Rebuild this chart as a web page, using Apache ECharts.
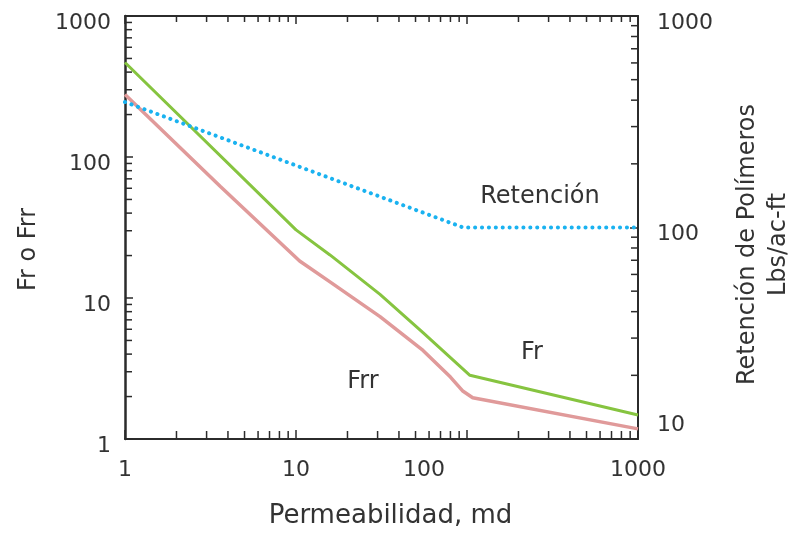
<!DOCTYPE html>
<html>
<head>
<meta charset="utf-8">
<style>
  html, body { margin: 0; padding: 0; background: #fff; }
  #chart { width: 804px; height: 534px; }
</style>
<script src="https://cdn.jsdelivr.net/npm/echarts@6.0.0/dist/echarts.min.js"></script>
</head>
<body>
<div id="chart"></div>
<script>
// ---- data ----
const permFr = [1, 10, 15.8, 31, 55.3, 104, 1000];
const fr = [468, 30.4, 20.2, 10.6, 5.69, 2.83, 1.48];

const permFrr = [1, 3.6, 10.5, 15.8, 31, 55.3, 80, 94, 108, 1000];
const frr = [277, 62, 18.3, 13.0, 7.38, 4.25, 2.75, 2.2, 1.96, 1.18];

const permRet = [1, 95, 1000];
const retencion = [392, 100, 100];

// tick values
const xTickLabels = ['1', '10', '100', '1000'];
const leftTickLabels = ['1', '10', '100', '1000'];
const rightTickLabels = ['10', '100', '1000'];
const xMinor = [2, 3, 4, 5, 6, 7, 8, 9, 20, 30, 40, 50, 60, 70, 80, 90, 200, 300, 400, 500, 600, 700, 800, 900];
const leftMinor = [2, 3, 4, 5, 6, 7, 8, 9, 20, 30, 40, 50, 60, 70, 80, 90, 200, 300, 400, 500, 600, 700, 800, 900];
const rightMinor = [20, 30, 40, 50, 60, 70, 80, 90, 200, 300, 400, 500, 600, 700, 800, 900];

// ---- styling ----
const FONT = 'DejaVu Sans';
const INK = '#2b2b2b';
const TXT = '#333';
const TICK_LEN = 8;
const MINOR_LEN = 7;

function pairs(xs, ys) { return xs.map((x, i) => [x, ys[i]]); }

const chart = echarts.init(document.getElementById('chart'), null, { renderer: 'canvas' });

function lbl(v) { return String(Math.round(v)); }

const option = {
  animation: false,
  backgroundColor: '#fff',
  grid: { left: 125, right: 166, top: 16, bottom: 93, containLabel: false },
  xAxis: [
    {
      type: 'log', min: 1, max: 1000, logBase: 10, position: 'bottom',
      name: 'Permeabilidad, md', nameLocation: 'middle', nameGap: 64,
      nameTextStyle: { fontFamily: FONT, fontSize: 26, color: TXT, padding: [0, 0, 0, 18] },
      axisLine: { show: true, lineStyle: { color: INK, width: 2 } },
      axisTick: { show: true, inside: true, length: TICK_LEN + 1, lineStyle: { color: INK, width: 1.5 } },
      splitLine: { show: false },
      axisLabel: {
        margin: 20, fontFamily: FONT, fontSize: 22, color: TXT,
        formatter: function (v) {
          const s = lbl(v);
          if (xTickLabels.indexOf(s) < 0) return '';
          return s === '100' ? '{b|' + s + '}' : '{a|' + s + '}';
        },
        rich: {
          a: { fontFamily: FONT, fontSize: 22, color: TXT },
          b: { fontFamily: FONT, fontSize: 22, color: TXT, padding: [0, 86, 0, 0] }
        }
      }
    },
    {
      type: 'log', min: 1, max: 1000, logBase: 10, position: 'top',
      axisLine: { show: true, lineStyle: { color: INK, width: 2 } },
      axisTick: { show: true, inside: true, length: TICK_LEN, lineStyle: { color: INK, width: 1.5 } },
      axisLabel: { show: false },
      splitLine: { show: false }
    }
  ],
  yAxis: [
    {
      type: 'log', min: 1, max: 1000, logBase: 10, position: 'left',
      name: 'Fr o Frr', nameLocation: 'middle', nameGap: 84, nameRotate: 90,
      nameTextStyle: { fontFamily: FONT, fontSize: 24, color: TXT, padding: [0, 44, 0, 0] },
      axisLine: { show: true, lineStyle: { color: INK, width: 2.5 } },
      axisTick: { show: true, inside: true, length: TICK_LEN, lineStyle: { color: INK, width: 1.5 } },
      splitLine: { show: false },
      axisLabel: {
        margin: 14, fontFamily: FONT, fontSize: 22, color: TXT,
        formatter: function (v) {
          const s = lbl(v);
          if (leftTickLabels.indexOf(s) < 0) return '';
          return '{a|' + s + '}';
        },
        rich: { a: { fontFamily: FONT, fontSize: 22, color: TXT, padding: [14, 0, 0, 0] } }
      }
    },
    {
      type: 'log', min: 10, max: 1000, logBase: 10, position: 'right',
      name: 'Retención de Polímeros\nLbs/ac-ft', nameLocation: 'middle', nameGap: 94, nameRotate: 90,
      nameTextStyle: { fontFamily: FONT, fontSize: 24, color: TXT, lineHeight: 31, padding: [0, 34, 0, 0] },
      axisLine: { show: true, lineStyle: { color: INK, width: 2 } },
      axisTick: { show: true, inside: true, length: TICK_LEN, lineStyle: { color: INK, width: 1.5 } },
      splitLine: { show: false },
      axisLabel: {
        margin: 19, fontFamily: FONT, fontSize: 22, color: TXT,
        formatter: function (v) {
          const s = lbl(v);
          if (rightTickLabels.indexOf(s) < 0) return '';
          return s === '10' ? '{b|' + s + '}' : '{a|' + s + '}';
        },
        rich: {
          a: { fontFamily: FONT, fontSize: 22, color: TXT, padding: [14, 0, 0, 0] },
          b: { fontFamily: FONT, fontSize: 22, color: TXT, padding: [0, 0, 28, 0] }
        }
      }
    }
  ],
  graphic: [
    { type: 'text', x: 540, y: 197, style: { text: 'Retención', font: '24px "DejaVu Sans"', fill: TXT, align: 'center', verticalAlign: 'middle' } },
    { type: 'text', x: 532, y: 353, style: { text: 'Fr', font: '24px "DejaVu Sans"', fill: TXT, align: 'center', verticalAlign: 'middle' } },
    { type: 'text', x: 363, y: 382, style: { text: 'Frr', font: '24px "DejaVu Sans"', fill: TXT, align: 'center', verticalAlign: 'middle' } }
  ],
  series: [
    {
      name: 'Fr', type: 'line', xAxisIndex: 0, yAxisIndex: 0,
      data: pairs(permFr, fr), showSymbol: false, symbol: 'none', smooth: false,
      lineStyle: { color: '#86c440', width: 3 }, z: 4
    },
    {
      name: 'Frr', type: 'line', xAxisIndex: 0, yAxisIndex: 0,
      data: pairs(permFrr, frr), showSymbol: false, symbol: 'none', smooth: false,
      lineStyle: { color: '#e09a9a', width: 3.5 }, z: 3
    },
    {
      name: 'Retención', type: 'line', xAxisIndex: 0, yAxisIndex: 1,
      data: pairs(permRet, retencion), showSymbol: false, symbol: 'none',
      lineStyle: { color: '#1ab2f0', width: 4, type: [0.1, 6.8], cap: 'round' }, z: 5
    },
    {
      name: 'xMinor', type: 'custom', xAxisIndex: 0, yAxisIndex: 0, silent: true, clip: false, z: 10,
      data: xMinor.map(v => [v, 1]),
      renderItem: function (params, api) {
        const b = api.coord([api.value(0), 1]);
        const t = api.coord([api.value(0), 1000]);
        const st = { stroke: INK, lineWidth: 1.5 };
        return { type: 'group', children: [
          { type: 'line', shape: { x1: b[0], y1: b[1], x2: b[0], y2: b[1] - MINOR_LEN - 1 }, style: st },
          { type: 'line', shape: { x1: t[0], y1: t[1], x2: t[0], y2: t[1] + MINOR_LEN - 1 }, style: st }
        ] };
      }
    },
    {
      name: 'leftMinor', type: 'custom', xAxisIndex: 0, yAxisIndex: 0, silent: true, clip: false, z: 10,
      data: leftMinor.map(v => [1, v]),
      renderItem: function (params, api) {
        const p = api.coord([1, api.value(1)]);
        return { type: 'line', shape: { x1: p[0], y1: p[1], x2: p[0] + MINOR_LEN, y2: p[1] }, style: { stroke: INK, lineWidth: 1.5 } };
      }
    },
    {
      name: 'rightMinor', type: 'custom', xAxisIndex: 0, yAxisIndex: 1, silent: true, clip: false, z: 10,
      data: rightMinor.map(v => [1000, v]),
      renderItem: function (params, api) {
        const p = api.coord([1000, api.value(1)]);
        return { type: 'line', shape: { x1: p[0], y1: p[1], x2: p[0] - MINOR_LEN, y2: p[1] }, style: { stroke: INK, lineWidth: 1.5 } };
      }
    }
  ]
};

chart.setOption(option);
</script>
</body>
</html>
